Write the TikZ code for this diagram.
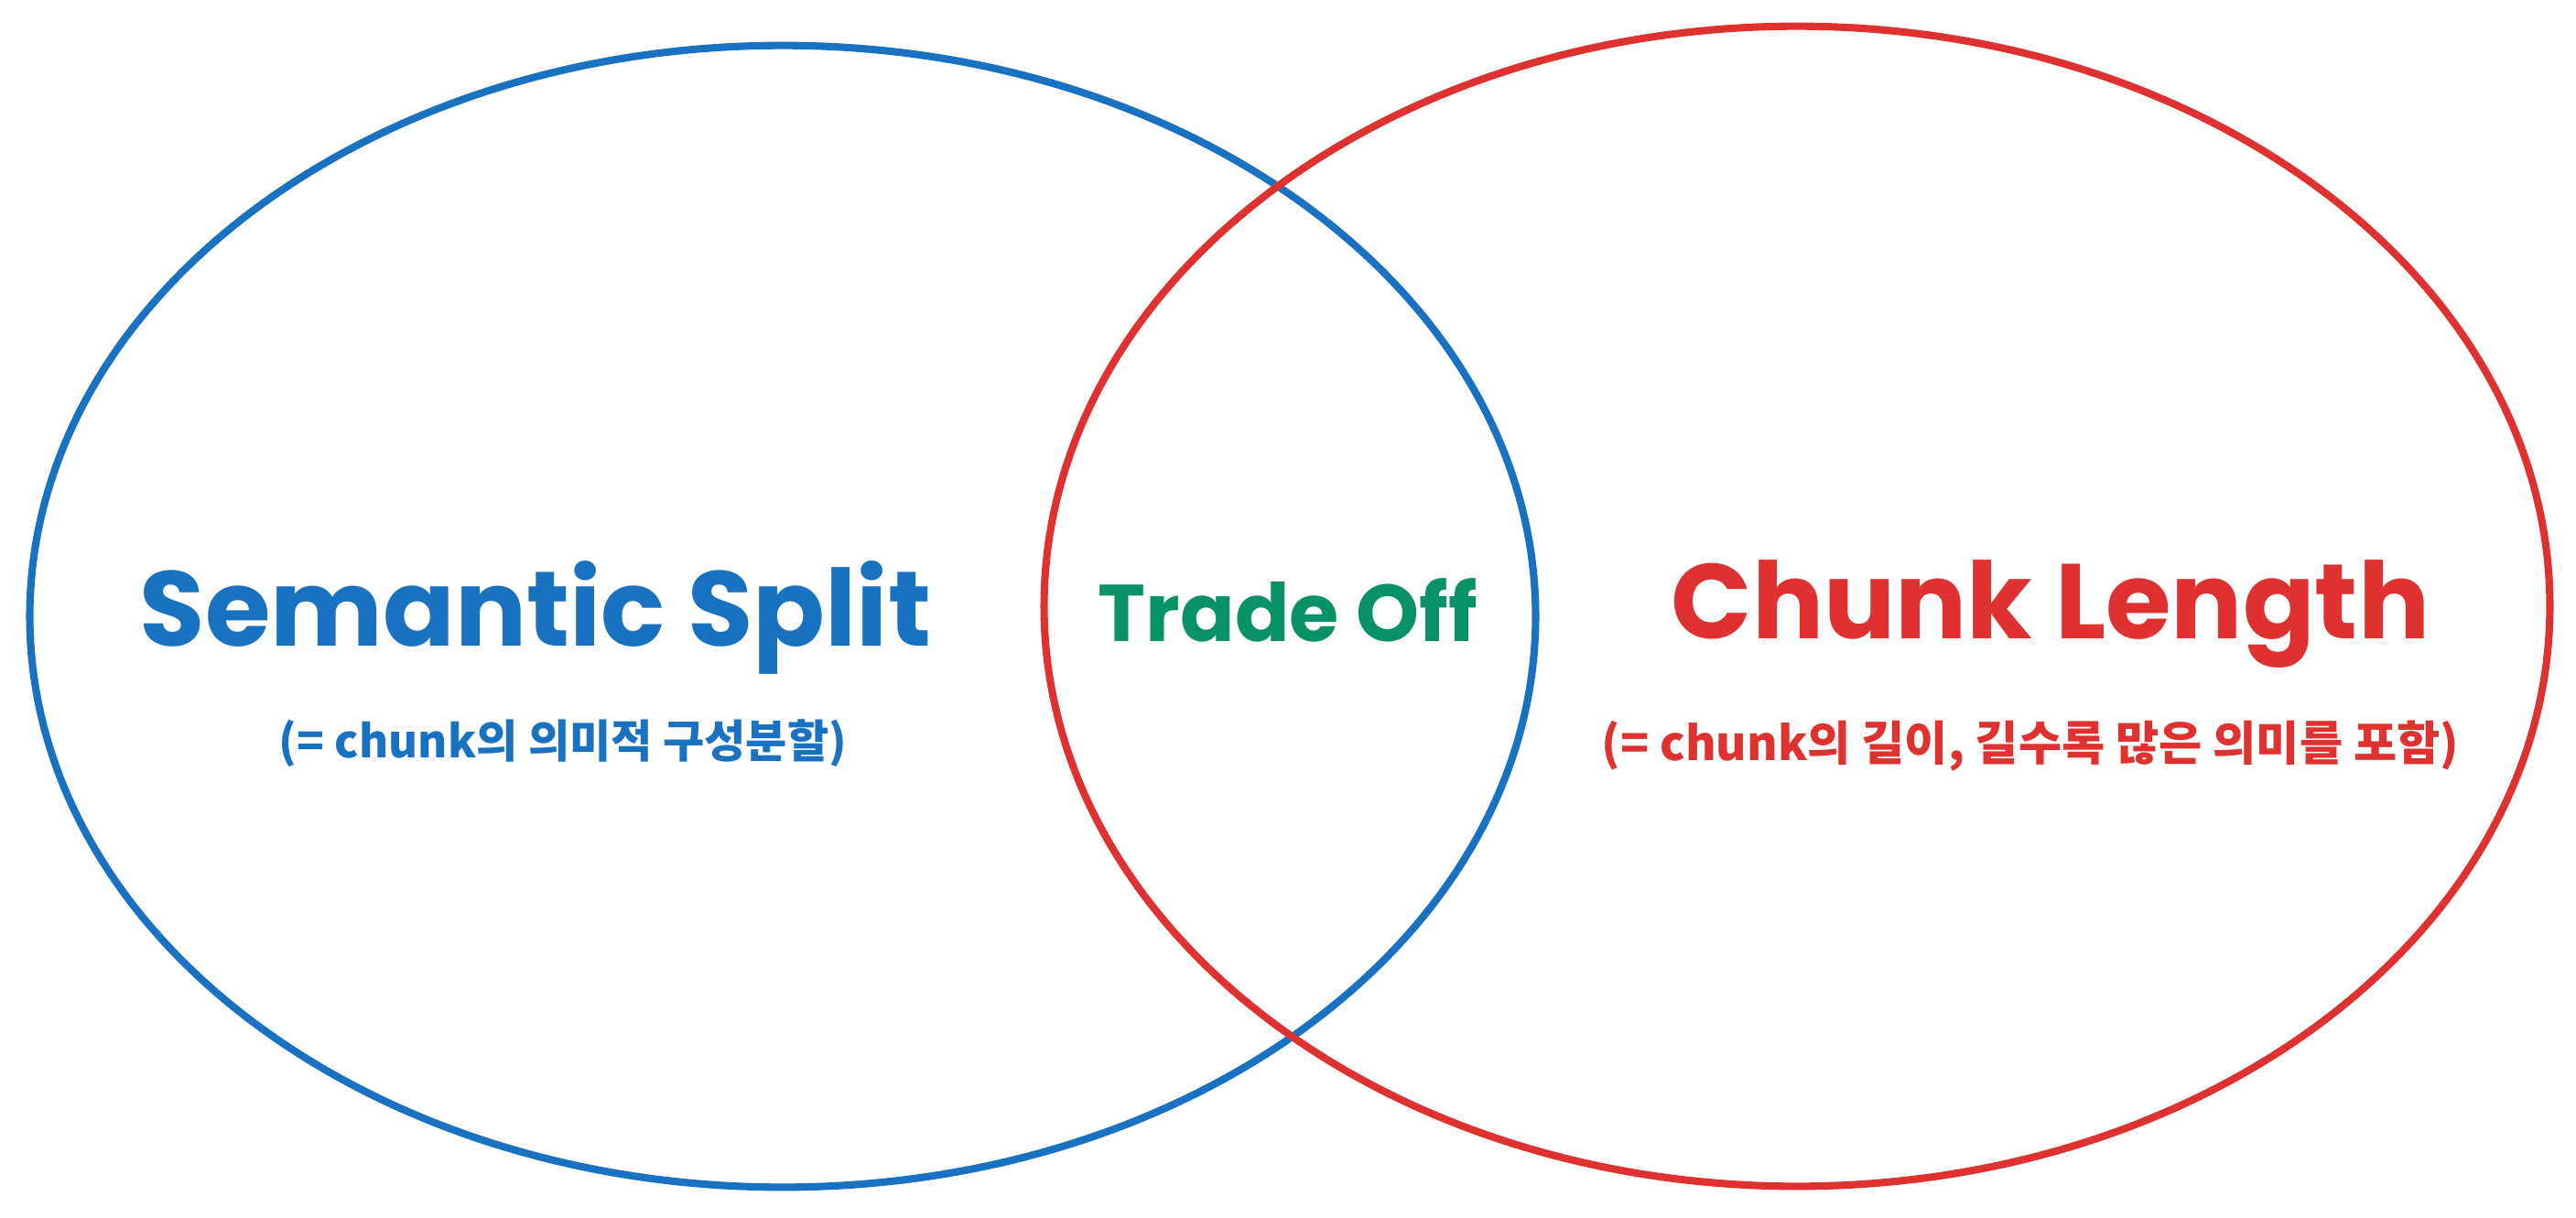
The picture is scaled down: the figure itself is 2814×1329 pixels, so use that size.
\documentclass[tikz,border=0pt]{standalone}
\usepackage{fontspec}
\usetikzlibrary{shapes.geometric}
\newfontfamily\titlefont{Poppins}
\newfontfamily\krfont{Noto Sans CJK KR}
\definecolor{xblue}{HTML}{1971C2}
\definecolor{xred}{HTML}{E03131}
\definecolor{xgreen}{HTML}{099268}
\begin{document}
\begin{tikzpicture}[x=0.01cm,y=-0.01cm]
\tikzset{
  setring/.style={ellipse, draw, line width=2.3pt, inner sep=0pt, outer sep=0pt},
  bigtitle/.style={font=\titlefont\bfseries\fontsize{33}{40}\selectfont, anchor=base, inner sep=0pt},
  midtitle/.style={font=\titlefont\bfseries\fontsize{25}{30}\selectfont, anchor=base, inner sep=0pt},
  subtext/.style={font=\krfont\bfseries\fontsize{14}{17}\selectfont, anchor=base, inner sep=0pt}
}
\useasboundingbox (0,0) rectangle (2814,1329);
\fill[white] (0,0) rectangle (2814,1329);
\node[setring, draw=xblue, minimum width=16.44cm, minimum height=12.46cm] (blueset) at (855,673) {};
\node[setring, draw=xred, minimum width=16.44cm, minimum height=12.66cm] (redset) at (1963,662) {};
\node[bigtitle, text=xblue] (semtitle) at (585,705) {Semantic Split};
\node[subtext, text=xblue] (semsub) at (615,827) {(= chunk의 의미적 구성분할)};
\node[midtitle, text=xgreen] (trade) at (1407,700) {Trade Off};
\node[bigtitle, text=xred] (lentitle) at (2240,697) {Chunk Length};
\node[subtext, text=xred, font=\krfont\bfseries\fontsize{14.6}{17}\selectfont] (lensub) at (2218,830) {(= chunk의 길이, 길수록 많은 의미를 포함)};
\end{tikzpicture}
\end{document}
